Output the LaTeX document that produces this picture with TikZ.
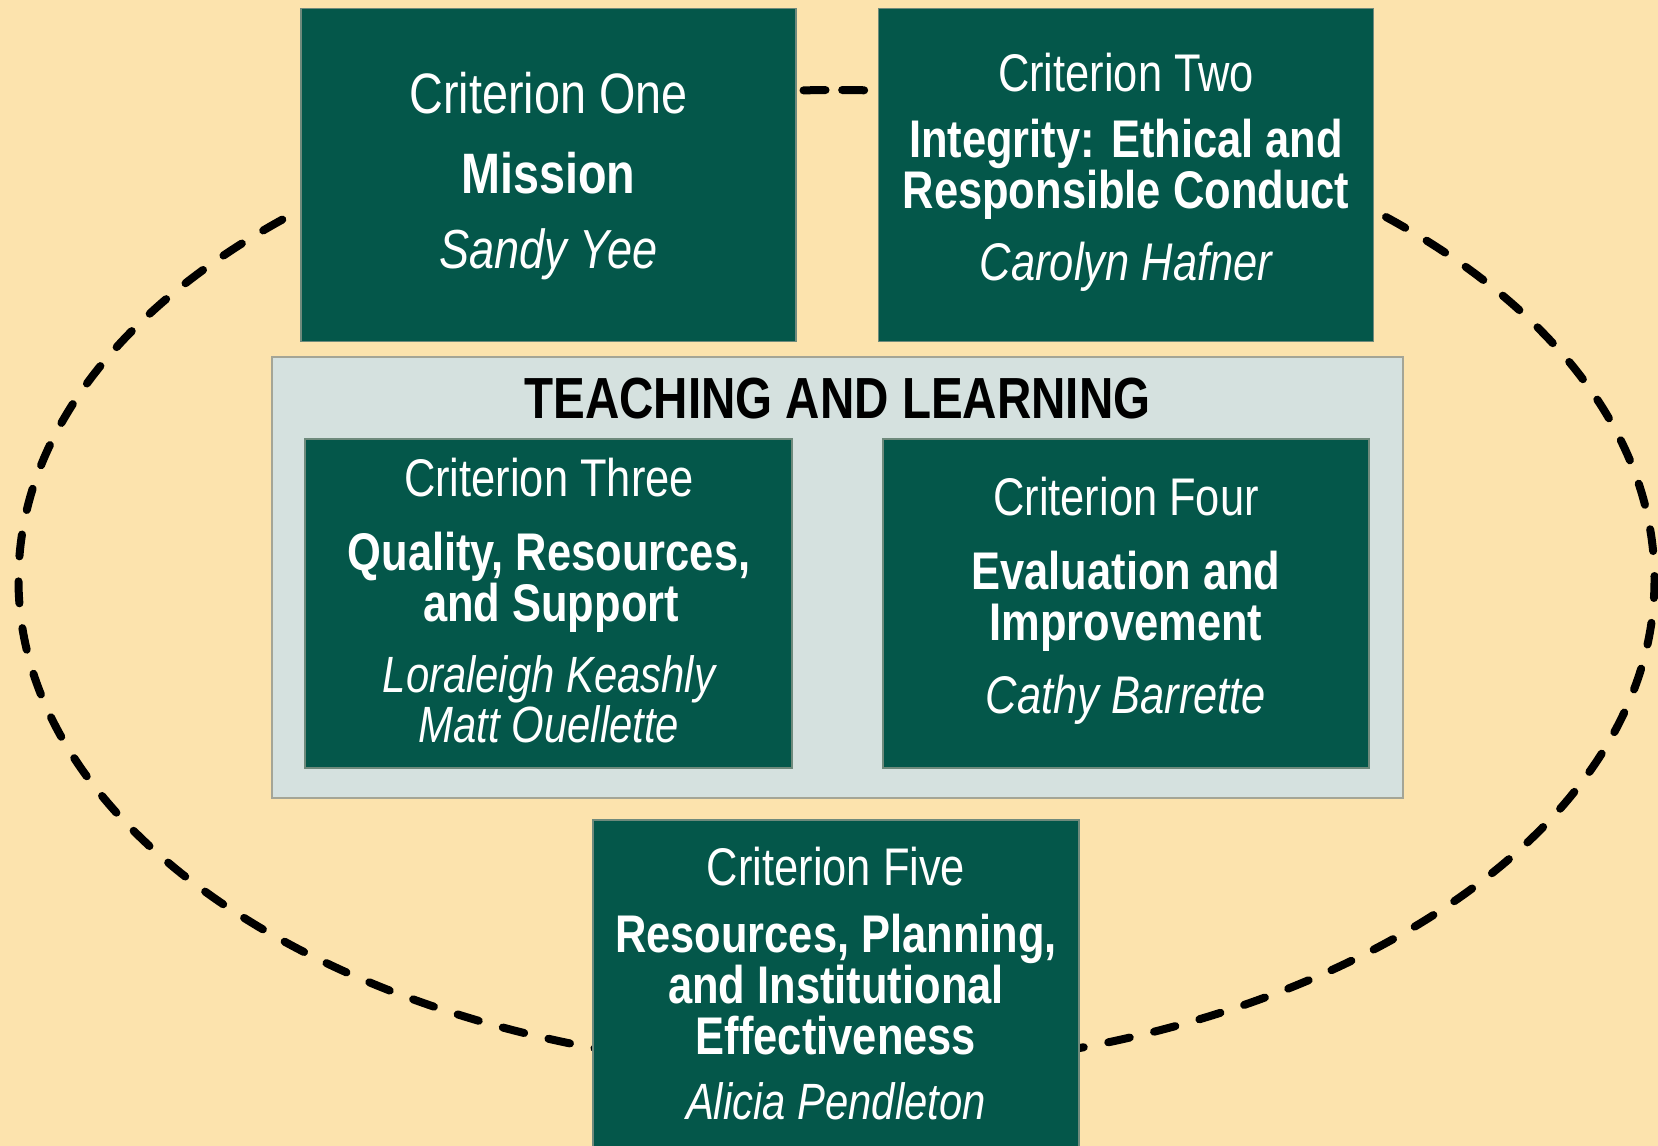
\documentclass[tikz,border=0pt]{standalone}
\usepackage{fontspec}
\setmainfont{Liberation Sans}[FakeStretch=0.82]
\definecolor{bg}{HTML}{FCE3AD}
\definecolor{crgreen}{HTML}{04574A}
\definecolor{tlgray}{HTML}{D5E1DF}
\definecolor{greenedge}{HTML}{6F8A7C}
\definecolor{grayedge}{HTML}{A4A596}
\begin{document}
\begin{tikzpicture}[x=1pt,y=-1pt,
  crbox/.style={fill=crgreen, draw=greenedge, line width=1.5pt, anchor=north west, inner sep=0pt, outer sep=0pt},
  tlbox/.style={fill=tlgray, draw=grayedge, line width=2pt, anchor=north west, inner sep=0pt, outer sep=0pt},
  crhead/.style={anchor=base, inner sep=0pt, text=white, font=\fontsize{53}{53}\selectfont},
  crtitle/.style={anchor=base, inner sep=0pt, text=white, font=\fontsize{53}{53}\selectfont\bfseries},
  crname/.style={anchor=base, inner sep=0pt, text=white, font=\fontsize{51}{51}\selectfont\itshape},
  tltitle/.style={anchor=base, inner sep=0pt, text=black, font=\fontsize{58}{58}\selectfont\bfseries},
  ring/.style={draw=black, line width=8pt, line cap=round, dash pattern=on 22pt off 25pt, dash phase=36pt}
]
\useasboundingbox (0,0) rectangle (1658,1146);
\fill[bg] (0,0) rectangle (1658,1146);

% dashed ring behind the boxes
\draw[ring] (836.5,90) arc[start angle=270, end angle=-90, x radius=818, y radius=490];

% Criterion One
\node[crbox, minimum width=495pt, minimum height=333pt] (c1) at (301,8.5) {};
\node[crhead, font=\fontsize{57}{57}\selectfont] (c1a) at (548.5,113) {Criterion One};
\node[crtitle, font=\fontsize{57}{57}\selectfont\bfseries] (c1b) at (548.5,193) {Mission};
\node[crname, font=\fontsize{55}{55}\selectfont\itshape] (c1c) at (548.5,268) {Sandy Yee};

% Criterion Two
\node[crbox, minimum width=495pt, minimum height=333pt] (c2) at (878.5,8.5) {};
\node[crhead] (c2a) at (1126,91) {Criterion Two};
\node[crtitle] (c2b) at (1126,157) {Integrity: Ethical and};
\node[crtitle] (c2c) at (1126,208) {Responsible Conduct};
\node[crname, font=\fontsize{53}{53}\selectfont\itshape] (c2d) at (1126,280) {Carolyn Hafner};

% Teaching and Learning
\node[tlbox, minimum width=1131pt, minimum height=441pt] (tl) at (272,357) {};
\node[tltitle] (tla) at (837.5,418) {TEACHING AND LEARNING};

% Criterion Three
\node[crbox, minimum width=487pt, minimum height=329pt] (c3) at (305,439) {};
\node[crhead] (c3a) at (549,496) {Criterion Three};
\node[crtitle] (c3b) at (549,570) {Quality, Resources,};
\node[crtitle] (c3c) at (551,621) {and Support};
\node[crname] (c3d) at (549,692) {Loraleigh Keashly};
\node[crname] (c3e) at (549,742) {Matt Ouellette};

% Criterion Four
\node[crbox, minimum width=486pt, minimum height=329pt] (c4) at (883,439) {};
\node[crhead] (c4a) at (1126,515) {Criterion Four};
\node[crtitle] (c4b) at (1126,589) {Evaluation and};
\node[crtitle] (c4c) at (1126,640) {Improvement};
\node[crname, font=\fontsize{53}{53}\selectfont\itshape] (c4d) at (1126,713) {Cathy Barrette};

% Criterion Five
\node[crbox, minimum width=486pt, minimum height=340pt] (c5) at (593,820) {};
\node[crhead] (c5a) at (836,885) {Criterion Five};
\node[crtitle] (c5b) at (836,952) {Resources, Planning,};
\node[crtitle] (c5c) at (836,1003) {and Institutional};
\node[crtitle] (c5d) at (836,1054) {Effectiveness};
\node[crname] (c5e) at (836,1119) {Alicia Pendleton};
\end{tikzpicture}
\end{document}
